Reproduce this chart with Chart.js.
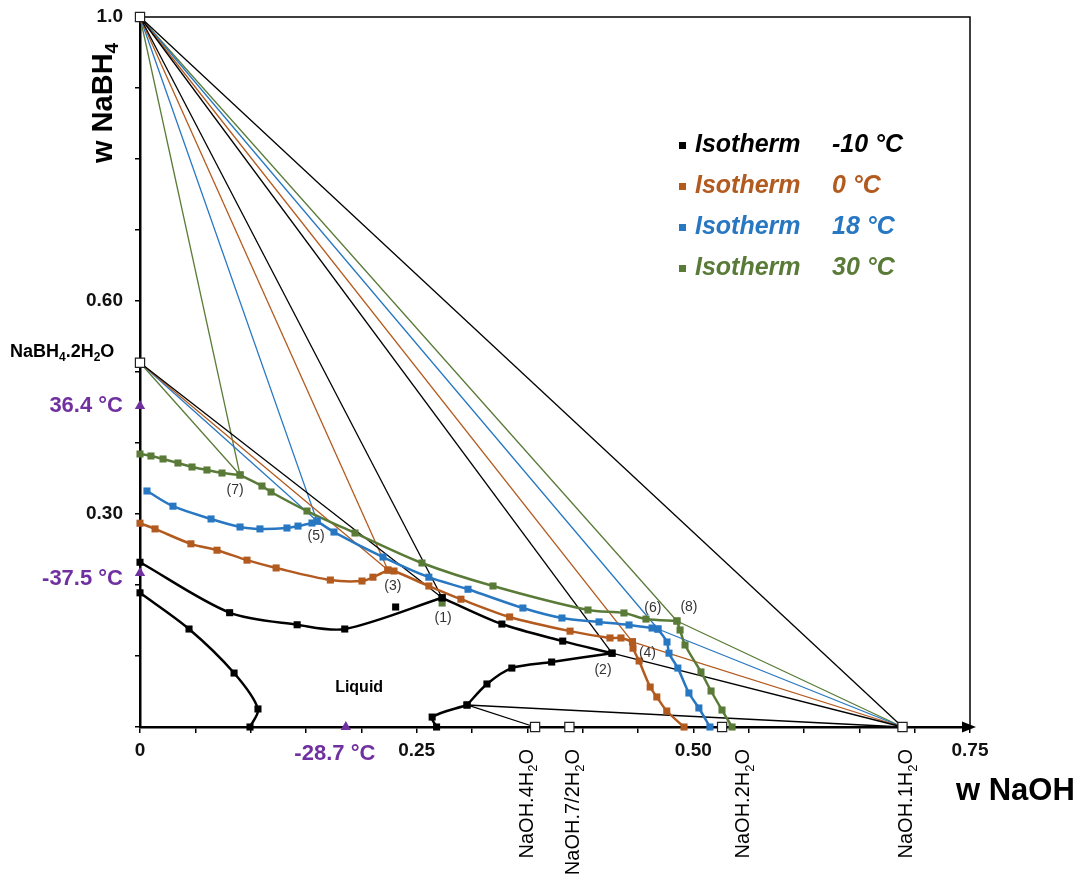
<!DOCTYPE html>
<html><head><meta charset="utf-8">
<script src="https://cdn.jsdelivr.net/npm/chart.js@4.4.1/dist/chart.umd.min.js"></script>
<style>html,body{margin:0;padding:0;background:#fff}canvas{display:block}</style>
</head><body>
<canvas id="c" width="1082" height="880"></canvas>
<script>
// ---- compounds (w NaOH, w NaBH4) ----
const NaBH4 = [0, 1.0];
const NaBH4_2H2O = [0, 0.513];
const NaOH_4H2O = [0.357, 0];
const NaOH_72H2O = [0.388, 0];
const NaOH_2H2O = [0.526, 0];
const NaOH_1H2O = [0.689, 0];
const compounds = [NaBH4, NaBH4_2H2O, NaOH_4H2O, NaOH_72H2O, NaOH_2H2O, NaOH_1H2O];

// ---- invariant points ----
const P1 = [0.273, 0.182];
const P2 = [0.4265, 0.104];
const P3 = [0.224, 0.221];
const P4 = [0.445, 0.120];
const P5 = [0.160, 0.290];
const P6 = [0.468, 0.138];
const P7 = [0.0904, 0.355];
const P8 = [0.4852, 0.1493];
const Pq = [0.2955, 0.031];

// ---- eutectic / melting points (purple triangles) ----
const triangles = [[0, 0.452], [0, 0.217], [0.186, 0]];

// ---- isotherm -10 °C ----
const m10Ice = [[0,0.189],[0.0443,0.138],[0.085,0.076],[0.1066,0.0254],[0.0994,0]];
const m10Dihydrate = [[0,0.232],[0.081,0.161],[0.142,0.144],[0.185,0.138],P1];
const m10Extra = [[0.231,0.169]];
const m10NaBH4 = [P1,[0.327,0.145],[0.382,0.121],P2];
const m10NaOHa = [P2,[0.372,0.0915],[0.336,0.083],[0.3135,0.0606],Pq];
const m10NaOHb = [Pq,[0.264,0.014],[0.268,0]];

// ---- isotherm 0 °C ----
const c0a = [[0,0.287],[0.0136,0.279],[0.046,0.258],[0.0696,0.249],[0.0967,0.235],[0.123,0.224],[0.172,0.207],[0.2006,0.2056],[0.2105,0.211],P3];
const c0b = [P3,[0.2295,0.2197],[0.261,0.1986],[0.290,0.180],[0.334,0.155],[0.3886,0.135],[0.4247,0.1254],[0.4346,0.1254],P4];
const c0c = [P4,[0.4455,0.111],[0.451,0.093],[0.461,0.0563],[0.467,0.0423],[0.476,0.0225],[0.4916,0]];

// ---- isotherm 18 °C ----
const c18a = [[0.0063,0.3324],[0.0298,0.311],[0.0642,0.293],[0.0904,0.2817],[0.1084,0.279],[0.1328,0.2803],[0.1428,0.283],[0.1554,0.2873],P5];
const c18b = [P5,[0.1753,0.2746],[0.2196,0.2394],[0.261,0.211],[0.2964,0.194],[0.346,0.1676],[0.3813,0.1535],[0.4148,0.148],[0.4419,0.1437],[0.4627,0.1394],P6];
const c18c = [P6,[0.4762,0.1197],[0.478,0.104],[0.486,0.083],[0.496,0.0479],[0.505,0.0268],[0.515,0]];

// ---- isotherm 30 °C ----
const c30a = [[0,0.3845],[0.0099,0.3817],[0.0208,0.3775],[0.0343,0.3718],[0.047,0.3662],[0.0605,0.362],[0.0741,0.3577],P7];
const c30b = [P7,[0.1102,0.3394],[0.1184,0.331],[0.1509,0.3042],[0.1943,0.2732],[0.2548,0.231],[0.319,0.1986],[0.4048,0.1648],[0.4373,0.1606],[0.4572,0.152],P8];
const c30c = [P8,[0.488,0.1366],[0.4925,0.1155],[0.5069,0.0775],[0.516,0.0507],[0.5259,0.0239],[0.535,0]];
const c30Extra = [[0.273,0.1746]];

// ---- tie lines ----
const tieM10 = [[NaBH4,P1],[NaBH4,P2],[NaBH4,NaOH_1H2O],[NaBH4_2H2O,P1],[P2,NaOH_1H2O],[Pq,NaOH_4H2O],[Pq,NaOH_1H2O]];
const tie0 = [[NaBH4,P3],[NaBH4_2H2O,P3],[NaBH4,P4],[P4,NaOH_1H2O]];
const tie18 = [[NaBH4,P5],[NaBH4_2H2O,P5],[NaBH4,P6],[P6,NaOH_1H2O]];
const tie30 = [[NaBH4,P7],[NaBH4_2H2O,P7],[NaBH4,P8],[P8,NaOH_1H2O]];

// ---- tick labels ----
const xTickLabels = {0:'0', 25:'0.25', 50:'0.50', 75:'0.75'};
const yTickLabels = {3:'0.30', 6:'0.60', 10:'1.0'};

// ---- legend ----
const legendNames = ['Isotherm', 'Isotherm', 'Isotherm', 'Isotherm'];
const legendTemps = ['-10 °C', '0 °C', '18 °C', '30 °C'];

const BLACK = '#000000', BROWN = '#B35A1F', BLUE = '#2777C2', GREEN = '#5A7B38', PURPLE = '#7030A0';
const legendColors = [BLACK, BROWN, BLUE, GREEN];
const FONT = '"Liberation Sans", Arial, sans-serif';

const pts = a => a.map(p => ({x: p[0], y: p[1]}));
const datasets = [];
function curve(arr, color, label) {
  datasets.push({label, data: pts(arr), showLine: true, borderColor: color, backgroundColor: color,
    borderWidth: 2.5, pointStyle: 'rect', pointRadius: 5, pointHoverRadius: 5, pointBorderWidth: 0,
    tension: 0.3, order: 2, clip: false});
}
function lone(arr, color, label) {
  datasets.push({label, data: pts(arr), showLine: false, borderColor: color, backgroundColor: color,
    pointStyle: 'rect', pointRadius: 5, pointBorderWidth: 0, order: 2, clip: false});
}
function ties(list, color) {
  list.forEach(pair => datasets.push({data: pts(pair), showLine: true, borderColor: color,
    borderWidth: 1.3, pointRadius: 0, tension: 0, order: 4, clip: false}));
}
[m10Ice, m10Dihydrate, m10NaBH4, m10NaOHa, m10NaOHb].forEach(a => curve(a, BLACK, 'Isotherm -10 °C'));
lone(m10Extra, BLACK, 'Isotherm -10 °C');
[c0a, c0b, c0c].forEach(a => curve(a, BROWN, 'Isotherm 0 °C'));
[c18a, c18b, c18c].forEach(a => curve(a, BLUE, 'Isotherm 18 °C'));
[c30a, c30b, c30c].forEach(a => curve(a, GREEN, 'Isotherm 30 °C'));
lone(c30Extra, GREEN, 'Isotherm 30 °C');
ties(tieM10, BLACK); ties(tie0, BROWN); ties(tie18, BLUE); ties(tie30, GREEN);
datasets.push({label: 'compounds', data: pts(compounds), showLine: false, pointStyle: 'rect', pointRadius: 6.5,
  backgroundColor: '#fff', borderColor: '#222', pointBorderWidth: 1.2, order: 0, clip: false});
datasets.push({label: 'invariant', data: pts(triangles), showLine: false, pointStyle: 'triangle', pointRadius: 6,
  backgroundColor: PURPLE, borderColor: PURPLE, pointBorderWidth: 0, order: 1, clip: false});

function richText(ctx, parts, x, y, size, weight, align) {
  const fonts = parts.map(p => `${weight} ${p[1] ? Math.round(size * 0.65) : size}px ${FONT}`);
  const widths = parts.map((p, i) => { ctx.font = fonts[i]; return ctx.measureText(p[0]).width; });
  const total = widths.reduce((a, b) => a + b, 0);
  let cx = align === 'right' ? x - total : align === 'center' ? x - total / 2 : x;
  ctx.textAlign = 'left'; ctx.textBaseline = 'alphabetic';
  parts.forEach((p, i) => { ctx.font = fonts[i]; ctx.fillText(p[0], cx, y + (p[1] ? size * 0.22 : 0)); cx += widths[i]; });
}
function rotText(ctx, parts, x, y, size, weight, align) {
  ctx.save(); ctx.translate(x, y); ctx.rotate(-Math.PI / 2);
  richText(ctx, parts, 0, 0, size, weight, align || 'right'); ctx.restore();
}

const annot = {
  id: 'annot',
  beforeDatasetsDraw(chart) {
    const {ctx, chartArea: a} = chart;
    ctx.save(); ctx.strokeStyle = '#000'; ctx.lineWidth = 1.5;
    ctx.beginPath(); ctx.moveTo(a.left, a.top); ctx.lineTo(a.right, a.top); ctx.lineTo(a.right, a.bottom); ctx.stroke();
    ctx.restore();
  },
  afterDraw(chart) {
    const {ctx, chartArea: a} = chart;
    const X = v => chart.scales.x.getPixelForValue(v), Y = v => chart.scales.y.getPixelForValue(v);
    ctx.save();
    // arrow on x axis
    ctx.fillStyle = '#000';
    ctx.beginPath(); ctx.moveTo(a.right + 6, a.bottom); ctx.lineTo(a.right - 8, a.bottom - 5.5); ctx.lineTo(a.right - 8, a.bottom + 5.5); ctx.closePath(); ctx.fill();
    // axis titles
    ctx.fillStyle = '#000';
    rotText(ctx, [['w NaBH'], ['4', true]], 112, 163, 29, 'bold', 'left');
    richText(ctx, [['w NaOH']], 956, 800, 31, 'bold', 'left');
    // compound labels
    richText(ctx, [['NaBH'], ['4', true], ['.2H'], ['2', true], ['O']], 10, 357, 18, 'bold', 'left');
    rotText(ctx, [['NaOH.4H'], ['2', true], ['O']], X(NaOH_4H2O[0]) - 2, 749, 20, 'normal');
    rotText(ctx, [['NaOH.7/2H'], ['2', true], ['O']], X(NaOH_72H2O[0]) + 10, 749, 20, 'normal');
    rotText(ctx, [['NaOH.2H'], ['2', true], ['O']], X(NaOH_2H2O[0]) + 27, 749, 20, 'normal');
    rotText(ctx, [['NaOH.1H'], ['2', true], ['O']], X(NaOH_1H2O[0]) + 10, 749, 20, 'normal');
    // purple temperatures
    ctx.fillStyle = PURPLE;
    ctx.font = `bold 22px ${FONT}`; ctx.textBaseline = 'middle';
    ctx.textAlign = 'right';
    ctx.fillText('36.4 °C', 123, Y(triangles[0][1]));
    ctx.fillText('-37.5 °C', 123, Y(triangles[1][1]) + 6);
    ctx.textAlign = 'center';
    ctx.fillText('-28.7 °C', X(triangles[2][0]) - 11, 754);
    // Liquid
    ctx.fillStyle = '#000'; ctx.font = `bold 16px ${FONT}`;
    ctx.fillText('Liquid', X(0.198), Y(0.055));
    // invariant point numbers
    ctx.fillStyle = '#333'; ctx.font = `14px ${FONT}`;
    const nums = [[P1, 1, 20, '(1)'], [P2, -9, 17, '(2)'], [P3, 5, 16, '(3)'], [P4, 15, 11, '(4)'],
                  [P5, -1, 15, '(5)'], [P6, -5, -21, '(6)'], [P7, -5, 15, '(7)'], [P8, 12, -14, '(8)']];
    nums.forEach(([p, dx, dy, t]) => ctx.fillText(t, X(p[0]) + dx, Y(p[1]) + dy));
    // legend
    ctx.textAlign = 'left'; ctx.textBaseline = 'middle';
    const rows = [145, 186, 227, 268];
    legendTemps.forEach((t, i) => {
      ctx.fillStyle = legendColors[i];
      ctx.fillRect(679, rows[i] - 3, 7, 7);
      ctx.font = `italic bold 25px ${FONT}`;
      ctx.fillText(legendNames[i], 695, rows[i]);
      ctx.fillText(t, 832, rows[i]);
    });
    ctx.restore();
  }
};

new Chart(document.getElementById('c'), {
  type: 'scatter',
  data: {datasets},
  options: {
    responsive: false, animation: false, devicePixelRatio: 1, events: [],
    layout: {padding: {left: 0, top: 17, right: 112, bottom: 0}},
    plugins: {legend: {display: false}, tooltip: {enabled: false}},
    scales: {
      x: {
        type: 'linear', min: 0, max: 0.75,
        afterFit(s) { s.height = 153; s.paddingLeft = 0; s.paddingRight = 0; s.paddingTop = 0; s.paddingBottom = 0; },
        border: {display: true, color: '#000', width: 2.5},
        grid: {drawOnChartArea: false, drawTicks: true, tickLength: 6, color: '#000', tickColor: '#000', lineWidth: 1.5},
        ticks: {stepSize: 0.05, autoSkip: false, maxRotation: 0, padding: 6, color: '#111',
          font: {family: FONT, size: 19, weight: 'bold'},
          callback: v => xTickLabels[Math.round(v * 100)] || ''}
      },
      y: {
        type: 'linear', min: 0, max: 1.0,
        afterFit(s) { s.width = 140; s.paddingLeft = 0; s.paddingRight = 0; s.paddingTop = 0; s.paddingBottom = 0; },
        border: {display: true, color: '#000', width: 2.5},
        grid: {drawOnChartArea: false, drawTicks: true, tickLength: 5, color: '#000', tickColor: '#000', lineWidth: 1.5},
        ticks: {stepSize: 0.1, autoSkip: false, padding: 12, color: '#111',
          font: {family: FONT, size: 19, weight: 'bold'},
          callback: v => yTickLabels[Math.round(v * 10)] || ''}
      }
    }
  },
  plugins: [annot]
});
</script>
</body></html>
